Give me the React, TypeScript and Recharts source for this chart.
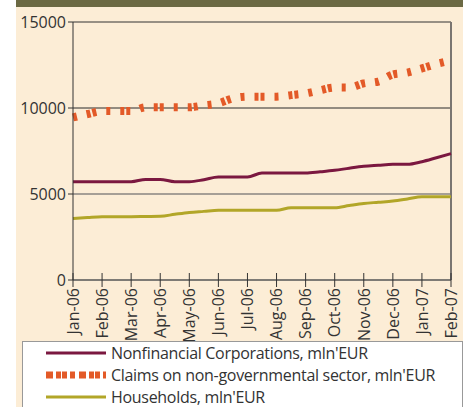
import { LineChart, Line, XAxis, YAxis, ReferenceLine } from 'recharts';

// month labels on the x axis
const months = ['Jan-06', 'Feb-06', 'Mar-06', 'Apr-06', 'May-06', 'Jun-06', 'Jul-06', 'Aug-06', 'Sep-06', 'Oct-06', 'Nov-06', 'Dec-06', 'Jan-07', 'Feb-07'];

// semi-monthly readings, mln EUR
const nonfinancial = [5715, 5715, 5715, 5715, 5715, 5850, 5850, 5715, 5715, 5830, 5990, 5990, 5990, 6220, 6220, 6220, 6220, 6290, 6375, 6500, 6610, 6670, 6725, 6725, 6880, 7110, 7345];
const claims = [9450, 9650, 9820, 9820, 9820, 10040, 10040, 10040, 10040, 10150, 10270, 10560, 10660, 10660, 10660, 10750, 10850, 11030, 11190, 11190, 11430, 11540, 11950, 12060, 12300, 12560, 12760];
const households = [3570, 3630, 3680, 3680, 3680, 3690, 3700, 3820, 3930, 3990, 4050, 4050, 4050, 4050, 4050, 4200, 4200, 4200, 4200, 4330, 4450, 4520, 4590, 4710, 4840, 4840, 4840];

const yTicks = [0, 5000, 10000, 15000];

const data = nonfinancial.map((v, i) => ({
  t: i / 2,
  nonfin: v,
  claims: claims[i],
  households: households[i],
}));

const FONT = '"Open Sans", sans-serif';
const MAROON = '#7b1840';
const ORANGE = '#e35a28';
const OLIVE = '#b2a628';

const MonthTick = (props: any) => {
  const { x, y, payload } = props;
  return (
    <g>
      <line x1={x} y1={y - 7} x2={x} y2={y + 7} stroke="#333" strokeWidth={1} />
      <text
        x={x}
        y={y + 8}
        dy="0.36em"
        textAnchor="end"
        transform={`rotate(-90, ${x}, ${y + 8})`}
        fontSize={16}
        fontFamily={FONT}
        fill="#333"
      >
        {months[payload.value]}
      </text>
    </g>
  );
};

const legendRows = [
  { label: "Nonfinancial Corporations, mln'EUR", color: MAROON, width: 3, dash: undefined },
  { label: "Claims on non-governmental sector, mln'EUR", color: ORANGE, width: 7, dash: '7 3 5 1 5 3 5 4' },
  { label: "Households, mln'EUR", color: OLIVE, width: 3, dash: undefined },
];

export default function App() {
  return (
    <div style={{ position: 'absolute', left: 0, top: 0, width: 467, height: 407, background: '#fff', overflow: 'hidden' }}>
      <div style={{ position: 'absolute', left: 16, top: 0, width: 447, height: 7, background: '#6b6943' }} />
      <div style={{ position: 'absolute', left: 16, top: 7, width: 447, height: 400, background: '#fcedd6' }} />
      <div style={{ position: 'absolute', left: 0, top: 0 }}>
        <LineChart width={467} height={352} data={data} margin={{ top: 22, right: 16, left: 16, bottom: 0 }}>
          <XAxis
            dataKey="t"
            type="number"
            domain={[0, 13]}
            ticks={months.map((_, i) => i)}
            interval={0}
            tick={<MonthTick />}
            tickLine={false}
            tickSize={0}
            tickMargin={0}
            height={72}
            axisLine={{ stroke: '#555', strokeWidth: 1.5 }}
          />
          <YAxis
            domain={[0, 15000]}
            ticks={yTicks}
            width={57}
            tickSize={5}
            tickMargin={2}
            tick={{ fontSize: 16, fontFamily: FONT, fill: '#333' }}
            tickLine={{ stroke: '#333' }}
            axisLine={{ stroke: '#333' }}
          />
          <ReferenceLine y={15000} stroke="#333" strokeWidth={1} />
          <ReferenceLine y={10000} stroke="#2b2b2b" strokeWidth={1} />
          <ReferenceLine y={5000} stroke="#8a8580" strokeWidth={1.5} />
          <ReferenceLine x={13} stroke="#7a7570" strokeWidth={2} />
          <Line type="monotone" dataKey="claims" stroke={ORANGE} strokeWidth={8} strokeDasharray="4 10 4 2 4 10" dot={false} isAnimationActive={false} />
          <Line type="monotone" dataKey="nonfin" stroke={MAROON} strokeWidth={3} dot={false} isAnimationActive={false} />
          <Line type="monotone" dataKey="households" stroke={OLIVE} strokeWidth={3} dot={false} isAnimationActive={false} />
        </LineChart>
      </div>
      <div
        style={{
          position: 'absolute',
          left: 22,
          top: 341,
          width: 439,
          height: 80,
          background: '#fff',
          border: '1px solid #999',
          fontFamily: FONT,
          fontSize: 16,
          color: '#333',
        }}
      >
        {legendRows.map((r, i) => (
          <div key={r.label} style={{ position: 'absolute', left: 0, top: 0 + i * 22, height: 22, display: 'flex', alignItems: 'center' }}>
            <svg width={88} height={22} style={{ display: 'block' }}>
              <line x1={23} y1={11} x2={83} y2={11} stroke={r.color} strokeWidth={r.width} strokeDasharray={r.dash} />
            </svg>
            <span style={{ whiteSpace: 'nowrap', lineHeight: '22px', letterSpacing: -0.3 }}>{r.label}</span>
          </div>
        ))}
      </div>
    </div>
  );
}
